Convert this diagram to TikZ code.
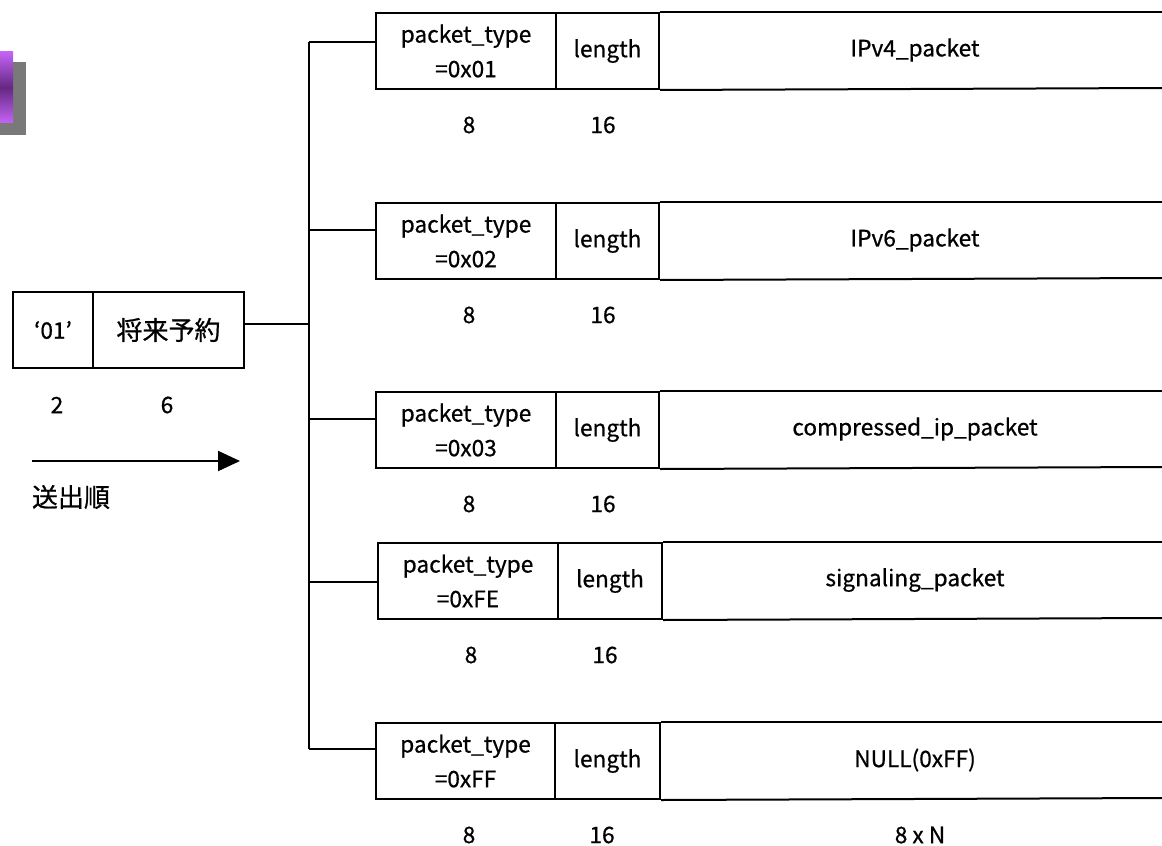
\documentclass[tikz,border=0pt]{standalone}
\usepackage{fontspec}
\setmainfont{Noto Sans CJK JP}[BoldFont=Noto Sans CJK JP, BoldFeatures={FakeBold=0.7}]
\usetikzlibrary{arrows.meta}
\definecolor{purplelite}{RGB}{196,100,245}
\definecolor{purpledark}{RGB}{100,40,130}
\begin{document}
\begin{tikzpicture}[x=0.75pt,y=-0.75pt,
  line width=1.5pt,
  every node/.style={font=\fontsize{17}{26}\selectfont\bfseries, inner sep=0pt, align=center},
  cjk/.style={font=\fontsize{19.5}{26}\selectfont\bfseries},
  cellbox/.style={draw, minimum height=57pt, anchor=north west},
  lbl/.style={anchor=center}]
\useasboundingbox (0,0) rectangle (1162,845);
% decorative purple fragment
\fill[gray!95!black, draw=none] (0,62) rectangle (26,135);
\shade[draw=none, top color=purplelite, bottom color=purplelite, middle color=purpledark] (0,52) rectangle (13,123);
% left field box
\node[cellbox, minimum width=60pt] (q) at (12,291) {‘01’};
\node[cellbox, cjk, minimum width=113.25pt] (r) at (92,291) {将来予約};
\node[lbl] (q2) at (57,405) {2};
\node[lbl] (r6) at (167,405) {6};
\coordinate (a0) at (32,461);
\coordinate (a1) at (240,461);
\draw[-{Triangle[length=16.5pt,width=15pt]}] (a0) -- (a1);
\node[cjk, anchor=west] (ord) at (31,497) {送出順};
% trunk
\coordinate (t0) at (309,42);
\coordinate (tL) at (309,324);
\coordinate (t5) at (309,749);
\draw (r.east |- tL) -- (tL);
\draw (t0) -- (t5);
% rows
\foreach \n/\top/\lx/\da/\db/\by/\ty/\pay/\sz in {
  1/12/375/555/658/42/01/IPv4\_packet/,
  2/202/375/555/658/230/02/IPv6\_packet/,
  3/391/375/555/658/419/03/compressed\_ip\_packet/,
  4/542/377/557/661/582/FE/signaling\_packet/,
  5/722/375/554/659/749/FF/NULL(0xFF)/8 x N}{
  \pgfmathsetmacro\wa{(\da-\lx)*0.75}
  \pgfmathsetmacro\wb{(\db-\da)*0.75}
  \node[cellbox, minimum width=\wa pt] (pt\n) at (\lx,\top) {packet\_type\\=0x\ty};
  \node[cellbox, minimum width=\wb pt] (ln\n) at (\da,\top) {length};
  \coordinate (pe\n) at (1162,\top);
  \coordinate (pf\n) at (1162,\top+76);
  \draw (ln\n.north east) -- (pe\n);
  \draw (ln\n.south east) -- (pf\n);
  \node (pl\n) at (915,\top+38) {\pay};
  \node[lbl] (s8\n) at (\lx+94,\top+113) {8};
  \node[lbl] (s16\n) at (\da+48,\top+113) {16};
  \node[lbl] (sn\n) at (920,\top+113) {\sz};
  \coordinate (b\n) at (309,\by);
  \draw (b\n) -- (pt\n.west |- b\n);
}
\end{tikzpicture}
\end{document}
